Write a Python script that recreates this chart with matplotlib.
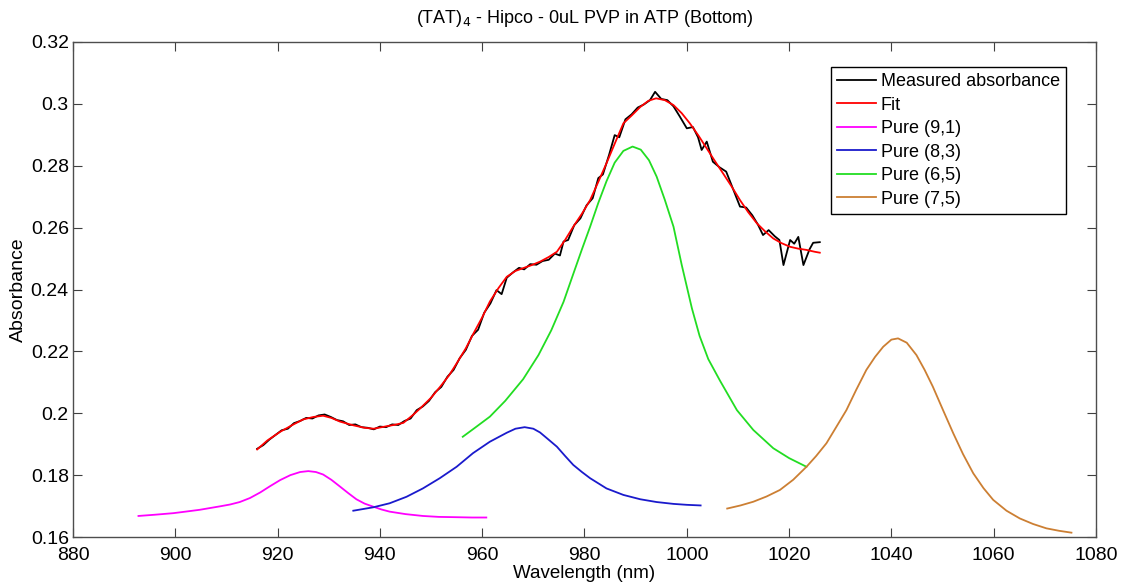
import numpy as np
import matplotlib
matplotlib.use('Agg')
import matplotlib.pyplot as plt

plt.rcParams['font.family'] = ['Liberation Sans', 'DejaVu Sans']
plt.rcParams['font.size'] = 13

# measured absorbance (wavelength nm, absorbance)
meas_x = [916.0, 917.2, 918.4, 919.6, 920.8, 922.0, 923.2, 924.4, 925.6, 926.8,
          928.0, 929.2, 930.4, 931.6, 932.8, 934.0, 935.2, 936.4, 937.6, 938.8,
          940.0, 941.2, 942.4, 943.6, 944.8, 946.0, 947.2, 948.4, 949.6, 950.8,
          952.0, 953.2, 954.4, 955.6, 956.8, 958.0, 959.2, 960.4, 961.6, 962.8,
          963.8, 964.8, 966.0, 967.2, 968.2, 969.4, 970.6, 971.8, 973.0, 974.2,
          975.2, 975.9, 976.8, 978.0, 979.2, 980.4, 981.6, 982.7, 983.6, 984.8,
          985.9, 986.8, 988.0, 989.2, 990.4, 991.6, 992.8, 993.8, 995.0, 996.2,
          997.4, 998.6, 1000.0, 1001.2, 1002.2, 1002.9, 1003.9, 1005.1, 1006.4, 1007.7,
          1008.8, 1010.4, 1011.6, 1012.8, 1013.9, 1014.9, 1016.0, 1017.2, 1018.1, 1018.9,
          1020.2, 1021.0, 1021.8, 1022.8, 1024.0, 1024.7, 1026.0]
meas_y = [0.1885, 0.1897, 0.1915, 0.1930, 0.1945, 0.1950, 0.1968, 0.1975, 0.1985, 0.1983,
          0.1993, 0.1996, 0.1988, 0.1978, 0.1974, 0.1962, 0.1964, 0.1955, 0.1953, 0.1948,
          0.1957, 0.1955, 0.1964, 0.1962, 0.1975, 0.1983, 0.2010, 0.2022, 0.2040, 0.2068,
          0.2085, 0.2118, 0.2140, 0.2178, 0.2205, 0.2250, 0.2270, 0.2325, 0.2355, 0.2398,
          0.2385, 0.2438, 0.2455, 0.2470, 0.2465, 0.2482, 0.2480, 0.2492, 0.2496, 0.2516,
          0.2510, 0.2555, 0.2560, 0.2608, 0.2630, 0.2672, 0.2695, 0.2760, 0.2772, 0.2835,
          0.2899, 0.2892, 0.2950, 0.2966, 0.2988, 0.2998, 0.3012, 0.3039, 0.3016, 0.3012,
          0.2992, 0.2960, 0.2921, 0.2925, 0.2892, 0.2851, 0.2878, 0.2813, 0.2795, 0.2781,
          0.2735, 0.2668, 0.2665, 0.2640, 0.2610, 0.2576, 0.2592, 0.2572, 0.2560, 0.2479,
          0.2560, 0.2548, 0.2570, 0.2479, 0.2530, 0.2551, 0.2553]

# fit
fit_x = [916.0, 918.0, 920.5, 923.0, 925.0, 927.0, 928.9, 930.5, 932.2, 934.8,
         937.0, 938.8, 941.3, 943.0, 944.6, 946.5, 947.9, 950.0, 951.8, 953.5,
         955.0, 956.8, 958.3, 960.0, 961.5, 963.2, 964.8, 966.5, 968.0, 969.7,
         971.3, 973.0, 974.6, 976.2, 977.8, 979.5, 981.1, 982.7, 984.3, 986.0,
         987.6, 989.2, 990.9, 992.5, 994.0, 995.7, 997.4, 999.0, 1000.6, 1002.3,
         1003.9, 1005.5, 1007.1, 1008.8, 1010.4, 1012.0, 1013.7, 1015.3, 1016.9, 1018.5,
         1020.2, 1021.8, 1023.4, 1025.0, 1026.0]
fit_y = [0.1883, 0.1912, 0.1940, 0.1963, 0.1980, 0.1988, 0.1992, 0.1985, 0.1973, 0.1961,
         0.1953, 0.1950, 0.1958, 0.1963, 0.1969, 0.1995, 0.2016, 0.2050, 0.2086, 0.2122,
         0.2161, 0.2210, 0.2258, 0.2310, 0.2361, 0.2405, 0.2441, 0.2460, 0.2469, 0.2479,
         0.2490, 0.2505, 0.2522, 0.2560, 0.2603, 0.2645, 0.2689, 0.2748, 0.2808, 0.2875,
         0.2937, 0.2962, 0.2990, 0.3010, 0.3018, 0.3012, 0.2996, 0.2970, 0.2937, 0.2897,
         0.2856, 0.2815, 0.2775, 0.2732, 0.2689, 0.2650, 0.2614, 0.2588, 0.2565, 0.2550,
         0.2538, 0.2532, 0.2528, 0.2522, 0.2519]

# pure (9,1)
p91_x = [892.8, 896.0, 899.6, 902.0, 904.8, 908.7, 910.7, 912.6, 914.6, 916.6, 918.5,
         920.5, 922.5, 924.4, 926.0, 927.5, 928.9, 930.5, 932.2, 933.8, 935.4,
         937.0, 938.7, 940.3, 941.9, 945.0, 948.4, 951.5, 954.9, 958.0, 960.8]
p91_y = [0.1668, 0.1672, 0.1677, 0.1682, 0.1688, 0.1699, 0.1705, 0.1713, 0.1726, 0.1744, 0.1764,
         0.1784, 0.1800, 0.1810, 0.1813, 0.1810, 0.1802, 0.1785, 0.1763, 0.1742, 0.1722,
         0.1708, 0.1698, 0.1689, 0.1682, 0.1674, 0.1668, 0.1665, 0.1664, 0.1663, 0.1663]

# pure (8,3)
p83_x = [934.8, 938.7, 941.9, 945.2, 948.4, 951.7, 955.0, 958.2, 961.5, 964.8,
         966.5, 968.3, 970.0, 971.3, 972.6, 974.6, 976.2, 977.8, 979.5, 981.1,
         984.3, 987.6, 990.9, 994.1, 997.4, 1000.0, 1002.7]
p83_y = [0.1685, 0.1696, 0.1709, 0.1730, 0.1757, 0.1790, 0.1827, 0.1871, 0.1908, 0.1937,
         0.1950, 0.1955, 0.1950, 0.1938, 0.1920, 0.1892, 0.1862, 0.1833, 0.1810, 0.1790,
         0.1757, 0.1736, 0.1722, 0.1713, 0.1707, 0.1704, 0.1702]

# pure (6,5)
p65_x = [956.2, 958.5, 961.5, 964.5, 968.0, 971.0, 973.5, 975.9, 977.8, 979.5,
         981.1, 982.7, 984.3, 985.9, 987.6, 989.4, 991.0, 992.6, 994.1, 995.7,
         997.4, 999.0, 1001.0, 1002.5, 1004.2, 1006.5, 1009.8, 1013.0, 1016.9, 1020.0,
         1023.4]
p65_y = [0.1924, 0.1952, 0.1989, 0.2040, 0.2110, 0.2188, 0.2268, 0.2360, 0.2450, 0.2530,
         0.2603, 0.2680, 0.2750, 0.2810, 0.2848, 0.2862, 0.2852, 0.2818, 0.2765, 0.2690,
         0.2603, 0.2480, 0.2339, 0.2250, 0.2175, 0.2105, 0.2010, 0.1946, 0.1887, 0.1855,
         0.1827]

# pure (7,5)
p75_x = [1007.9, 1010.5, 1013.0, 1015.6, 1018.2, 1020.8, 1023.4, 1025.3, 1027.3, 1029.2,
         1031.2, 1033.1, 1035.1, 1036.8, 1038.4, 1040.0, 1041.3, 1043.0, 1044.9, 1046.5,
         1048.1, 1050.1, 1052.1, 1054.0, 1056.0, 1058.0, 1059.9, 1062.5, 1065.1, 1067.7,
         1070.3, 1072.8, 1075.2]
p75_y = [0.1692, 0.1702, 0.1714, 0.1731, 0.1752, 0.1785, 0.1827, 0.1862, 0.1903, 0.1955,
         0.2010, 0.2075, 0.2140, 0.2182, 0.2215, 0.2238, 0.2242, 0.2228, 0.2188, 0.2140,
         0.2086, 0.2010, 0.1935, 0.1868, 0.1806, 0.1758, 0.1720, 0.1685, 0.1660, 0.1642,
         0.1628, 0.1620, 0.1614]

xticks = [880, 900, 920, 940, 960, 980, 1000, 1020, 1040, 1060, 1080]
yticks = [0.16, 0.18, 0.2, 0.22, 0.24, 0.26, 0.28, 0.3, 0.32]
ytick_labels = ['0.16', '0.18', '0.2', '0.22', '0.24', '0.26', '0.28', '0.3', '0.32']

fig = plt.figure(figsize=(11.28, 5.88), dpi=100)
ax = fig.add_axes([73 / 1128, 51 / 588, 1023 / 1128, 495 / 588])

lw = 1.3
ax.plot(meas_x, meas_y, color='k', lw=lw, label='Measured absorbance')
ax.plot(fit_x, fit_y, color='r', lw=lw, label='Fit')
ax.plot(p91_x, p91_y, color='#ff00ff', lw=lw, label='Pure (9,1)')
ax.plot(p83_x, p83_y, color='#1a1acc', lw=lw, label='Pure (8,3)')
ax.plot(p65_x, p65_y, color='#22dd22', lw=lw, label='Pure (6,5)')
ax.plot(p75_x, p75_y, color='#cc7f33', lw=lw, label='Pure (7,5)')

ax.set_xlim(880, 1080)
ax.set_ylim(0.16, 0.32)
ax.set_xticks(xticks)
ax.set_yticks(yticks)
ax.set_yticklabels(ytick_labels)
ax.tick_params(direction='in', length=6.5, width=0.8, top=True, right=True,
               colors='0.25', labelcolor='k', labelsize=14)
ax.tick_params(axis='x', pad=7)
ax.tick_params(axis='y', pad=3)
for s in ax.spines.values():
    s.set_color('0.3')
    s.set_linewidth(1.0)

ax.set_xlabel('Wavelength (nm)', fontsize=13.5, labelpad=1)
ax.set_ylabel('Absorbance', fontsize=14, labelpad=3)
ax.set_title('(TAT)$_4$ - Hipco - 0uL PVP in ATP (Bottom)', fontsize=13, pad=14)

leg = ax.legend(loc='upper right', bbox_to_anchor=(0.9707, 0.9495), fontsize=13,
                fancybox=False, framealpha=1, edgecolor='k', handlelength=2.15,
                handletextpad=0.25, labelspacing=0.36, borderpad=0.35,
                borderaxespad=0)
leg.get_frame().set_linewidth(1.0)

fig.savefig('out.png', dpi=100)
